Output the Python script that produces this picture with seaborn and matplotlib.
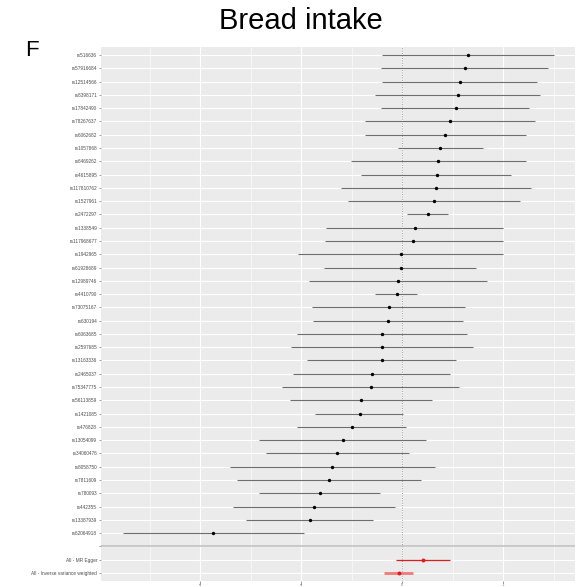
import matplotlib
matplotlib.use("Agg")
import matplotlib.pyplot as plt
import seaborn as sns
import numpy as np
import pandas as pd

snps = ["rs516636", "rs57916684", "rs12514566", "rs8398171", "rs17842490",
        "rs78267637", "rs6062682", "rs1057868", "rs6469262", "rs4615895",
        "rs117810762", "rs1527961", "rs2472297", "rs1338549", "rs117968677",
        "rs1942965", "rs61928689", "rs12989746", "rs4410790", "rs73075167",
        "rs630194", "rs6063685", "rs2597685", "rs13163336", "rs2465037",
        "rs75347775", "rs56113859", "rs1421085", "rs476828", "rs13054099",
        "rs34060476", "rs8058750", "rs7811609", "rs780093", "rs442355",
        "rs13387939", "rs62064918"]
est = [0.653, 0.624, 0.571, 0.548, 0.528, 0.469, 0.426, 0.376, 0.356, 0.347,
       0.337, 0.317, 0.257, 0.129, 0.109, -0.010, -0.012, -0.040, -0.050, -0.132,
       -0.145, -0.195, -0.196, -0.201, -0.297, -0.307, -0.409, -0.419, -0.495, -0.587,
       -0.640, -0.690, -0.723, -0.815, -0.871, -0.914, -1.868]
lo = [-0.198, -0.205, -0.198, -0.264, -0.205, -0.370, -0.370, -0.040, -0.505, -0.406,
      -0.604, -0.535, 0.050, -0.752, -0.762, -1.030, -0.772, -0.921, -0.267, -0.891,
      -0.884, -1.036, -1.096, -0.937, -1.076, -1.185, -1.112, -0.858, -1.036, -1.416,
      -1.347, -1.703, -1.634, -1.416, -1.673, -1.545, -2.766]
hi = [1.500, 1.439, 1.333, 1.363, 1.257, 1.310, 1.221, 0.802, 1.228, 1.079,
      1.277, 1.168, 0.455, 1.000, 1.000, 1.000, 0.733, 0.842, 0.149, 0.624,
      0.597, 0.644, 0.700, 0.535, 0.475, 0.561, 0.294, 0.007, 0.036, 0.238,
      0.066, 0.323, 0.185, -0.221, -0.069, -0.287, -0.973]

methods = ["All - MR Egger", "All - Inverse variance weighted"]
m_est = [0.208, -0.033]
m_lo = [-0.066, -0.178]
m_hi = [0.475, 0.106]

x_ticks = [-2, -1, 0, 1]
title = "Bread intake"
panel_label = "F"

# ---- build table ----
df = pd.DataFrame({"SNP": snps, "b": est, "lo": lo, "up": hi})
df["pos"] = np.arange(len(snps))
dm = pd.DataFrame({"SNP": methods, "b": m_est, "lo": m_lo, "up": m_hi})
dm["pos"] = np.arange(len(methods)) + len(snps) + 1
blank_pos = len(snps)

sns.set_theme(style="darkgrid")
plt.rcParams["font.family"] = ["Liberation Sans", "DejaVu Sans"]

fig = plt.figure(figsize=(5.83, 5.87), dpi=100)
ax = fig.add_axes([101 / 583, 1 - 581 / 587, 474 / 583, 534 / 587])
ax.set_facecolor("#EBEBEB")

# grid
ax.set_xticks(x_ticks)
ax.set_xticks([-2.5, -1.5, -0.5, 0.5, 1.5], minor=True)
ax.grid(which="major", color="white", linewidth=0.8)
ax.grid(which="minor", axis="x", color="white", linewidth=0.4)
ax.set_axisbelow(True)

# zero line and separator
ax.axvline(0, color="#9a9a9a", linestyle=(0, (1, 1.5)), linewidth=0.7, zorder=1)
ax.axhline(blank_pos, color="#BDBDBD", linewidth=1.1, zorder=1)

# SNP CIs
ax.hlines(df["pos"], df["lo"], df["up"], color="#6E6E6E", linewidth=0.8, zorder=2)
sns.scatterplot(data=df, x="b", y="pos", color="black", s=6, linewidth=0,
                ax=ax, zorder=3, legend=False)

# method rows
ax.hlines(dm["pos"].iloc[0], dm["lo"].iloc[0], dm["up"].iloc[0],
          color="#E31A1C", linewidth=0.9, zorder=2)
ax.hlines(dm["pos"].iloc[1], dm["lo"].iloc[1], dm["up"].iloc[1],
          color="#F07A7A", linewidth=2.0, zorder=2)
sns.scatterplot(data=dm, x="b", y="pos", color="#E31A1C", s=8, linewidth=0,
                ax=ax, zorder=3, legend=False)

ylabels = snps + [""] + methods
ax.set_yticks(np.arange(len(ylabels)))
ax.set_yticklabels(ylabels)
ax.set_ylim(len(ylabels) - 1 + 0.6, -0.6)
ax.set_xlim(-2.98, 1.71)

ax.tick_params(axis="y", which="major", length=1.8, width=0.4, color="#555555",
               labelsize=3.4, labelcolor="#4D4D4D", pad=1, left=True)
ax.tick_params(axis="x", which="major", length=1.2, width=0.4, color="#555555",
               labelsize=2.0, labelcolor="#4D4D4D", pad=0.3, bottom=True)
ax.tick_params(axis="x", which="minor", length=0)
ax.set_xlabel("")
ax.set_ylabel("")
for s in ax.spines.values():
    s.set_visible(False)

fig.text(301 / 583, 1 - 21 / 587, title, ha="center", va="center", fontsize=21,
         color="black")
fig.text(32 / 583, 1 - 50 / 587, panel_label, ha="center", va="center", fontsize=16,
         color="black")

fig.savefig("out.png", dpi=100)
